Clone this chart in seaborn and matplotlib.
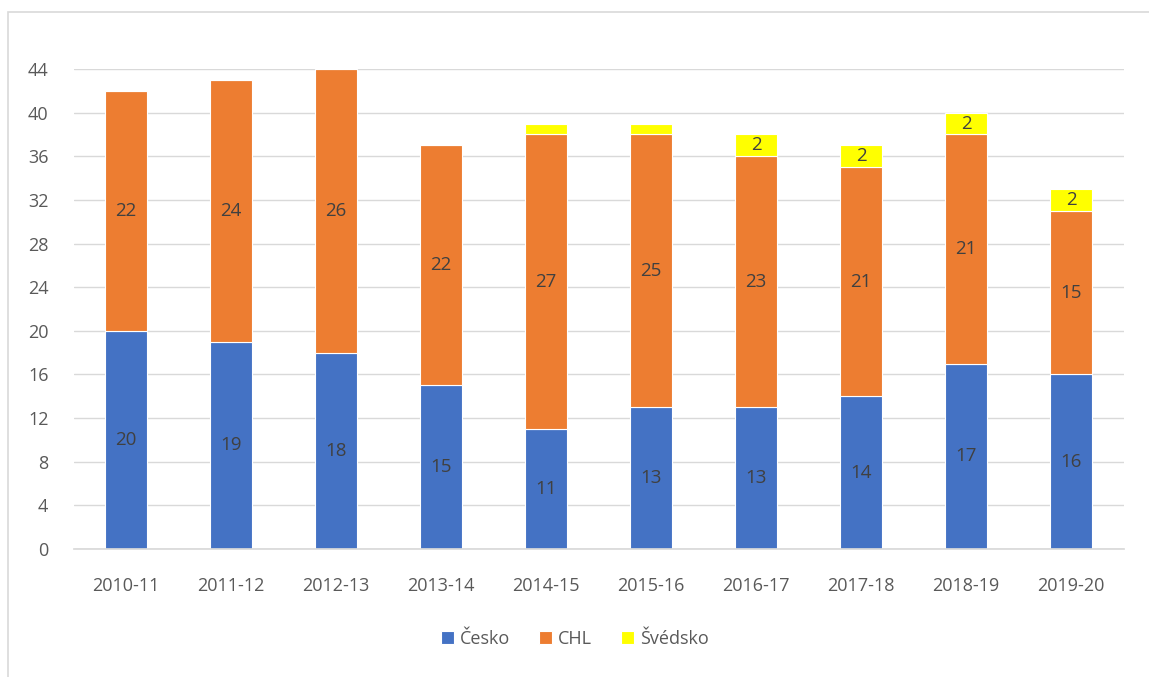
import matplotlib
matplotlib.use("Agg")
import matplotlib.pyplot as plt
import seaborn as sns
import numpy as np
import pandas as pd
from matplotlib.patches import Rectangle

seasons = ["2010-11", "2011-12", "2012-13", "2013-14", "2014-15",
           "2015-16", "2016-17", "2017-18", "2018-19", "2019-20"]
cesko = [20, 19, 18, 15, 11, 13, 13, 14, 17, 16]
chl = [22, 24, 26, 22, 27, 25, 23, 21, 21, 15]
svedsko = [0, 0, 0, 0, 1, 1, 2, 2, 2, 2]
series_names = ["Česko", "CHL", "Švédsko"]
colors = ["#4472C4", "#ED7D31", "#FFFF00"]
yticks = [0, 4, 8, 12, 16, 20, 24, 28, 32, 36, 40, 44]

sns.set_theme(style="white")
plt.rcParams['font.family'] = ['Open Sans', 'DejaVu Sans']

fig = plt.figure(figsize=(11.49, 6.77), dpi=100)
ax = fig.add_axes([73.5 / 1149, 1 - 549 / 677, 1050 / 1149, 480 / 677])

df = pd.DataFrame({"season": seasons, "Česko": cesko, "CHL": chl, "Švédsko": svedsko})
bottom = np.zeros(len(seasons))
for name, col in zip(series_names, colors):
    vals = df[name].values
    sns.barplot(x=df["season"], y=vals, bottom=bottom, color=col, width=0.4,
                ax=ax, label=name, edgecolor="white", linewidth=0.8, saturation=1)
    for i, v in enumerate(vals):
        if v >= 2:
            ax.text(i, bottom[i] + v / 2, str(v), ha="center", va="center",
                    fontsize=13.5, color="#404040")
    bottom = bottom + vals

ax.set_ylim(0, 44)
ax.set_xlim(-0.5, len(seasons) - 0.5)
ax.set_yticks(yticks)
ax.yaxis.grid(True, color="#D9D9D9", linewidth=1)
ax.set_axisbelow(True)
for s in ax.spines.values():
    s.set_visible(False)
ax.spines["bottom"].set_visible(True)
ax.spines["bottom"].set_color("#D9D9D9")
ax.tick_params(axis="both", length=0, labelsize=13, labelcolor="#595959")
ax.tick_params(axis="y", pad=18)
ax.tick_params(axis="x", pad=20)
ax.set_xlabel("")
ax.set_ylabel("")

handles, labels = ax.get_legend_handles_labels()
if ax.get_legend() is not None:
    ax.get_legend().remove()
leg = fig.legend(handles, labels, loc="center", bbox_to_anchor=(0.5, 1 - 639 / 677),
                 ncol=3, frameon=False, fontsize=13, handlelength=0.75, handleheight=0.75,
                 columnspacing=1.6, handletextpad=0.3, labelcolor="#595959")

fig.patches.append(Rectangle((8 / 1149, -0.05), 1.1, 1.05 - 12 / 677,
                             transform=fig.transFigure, fill=False,
                             edgecolor="#D9D9D9", linewidth=1.2))

fig.savefig("out.png", dpi=100, facecolor="white")
